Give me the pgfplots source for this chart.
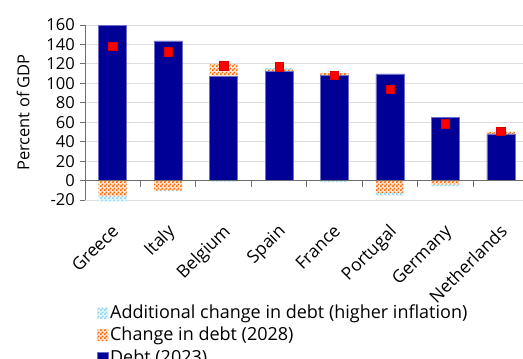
\documentclass[border=0pt]{standalone}
\usepackage{pgfplots}
\pgfplotsset{compat=1.18}
\usepackage{fontspec}
\setmainfont{Open Sans}
\usetikzlibrary{patterns}
\pgfdeclarepatternformonly{checker}{\pgfpointorigin}{\pgfpoint{4pt}{4pt}}{\pgfpoint{4pt}{4pt}}{%
  \pgfpathrectangle{\pgfpointorigin}{\pgfpoint{2pt}{2pt}}%
  \pgfpathrectangle{\pgfpoint{2pt}{2pt}}{\pgfpoint{2pt}{2pt}}%
  \pgfusepath{fill}}
\definecolor{debtblue}{RGB}{0,0,150}
\definecolor{debtedge}{RGB}{110,110,200}
\definecolor{chgorange}{RGB}{255,102,0}
\definecolor{addcyan}{RGB}{140,210,235}
\definecolor{gridgray}{RGB}{222,222,222}
\definecolor{axisgray}{RGB}{110,110,110}
\begin{document}
\fontsize{17}{20}\selectfont
\begin{tikzpicture}[font=\fontsize{17}{20}\selectfont]
\begin{axis}[
  at={(0pt,0pt)}, anchor=south west,
  scale only axis, width=438pt, height=175pt,
  xmin=-0.5, xmax=7.4, ymin=-20, ymax=160,
  clip=false,
  axis x line*=bottom,
  x axis line style={draw=none},
  xtick={0,1,2,3,4,5,6,7},
  xticklabels={Greece,Italy,Belgium,Spain,France,Portugal,Germany,Netherlands},
  xtick style={draw=none},
  xticklabel style={xshift=-2pt, yshift=-18pt, rotate=45, anchor=north east, inner sep=0pt,
    font=\fontsize{17.5}{20}\selectfont},
  axis y line*=left,
  y axis line style={axisgray, line width=0.8pt},
  ytick={-20,0,20,40,60,80,100,120,140,160},
  yticklabels={-20,0,20,40,60,80,100,120,140,160},
  ytick style={axisgray, line width=0.8pt},
  tick align=outside, major tick length=5pt,
  ymajorgrids, grid style={gridgray, line width=1pt},
  ylabel={Percent of GDP},
  ylabel style={font=\fontsize{16.5}{20}\selectfont, yshift=10pt},
  yticklabel style={inner sep=1pt, xshift=-4pt, font=\fontsize{16.5}{20}\selectfont},
  ybar, bar width=28pt, bar shift=0pt,
  legend cell align=left,
  legend style={at={(0.027,-0.59)}, anchor=north west, draw=none, fill=none,
    row sep=3pt, inner sep=0pt,
    nodes={inner sep=1.5pt}, font=\fontsize{18}{20}\selectfont},
  legend image code/.code={\path[#1] (0pt,-5.5pt) rectangle (11pt,5.5pt);},
]
% additional change (higher inflation): cumulative tops
\addplot[draw=none, fill=addcyan!20, postaction={pattern=checker, pattern color=addcyan}]
  coordinates {(3,116)};
\addlegendentry{Additional change in debt (higher inflation)}
\addplot[forget plot, draw=none, fill=addcyan!20, postaction={pattern=checker, pattern color=addcyan}]
  coordinates {(0,-21.5) (1,-11) (2,-1) (4,-1.5) (5,-15.4) (6,-5.8)};
% change in debt (2028)
\addplot[draw=none, fill=chgorange!15, postaction={pattern=checker, pattern color=chgorange}]
  coordinates {(2,119.5) (3,114) (4,110.5) (7,50.5)};
\addlegendentry{Change in debt (2028)}
\addplot[forget plot, draw=none, fill=chgorange!15, postaction={pattern=checker, pattern color=chgorange}]
  coordinates {(0,-16) (1,-10) (5,-12.6) (6,-4)};
% debt 2023
\addplot[draw=debtedge, line width=0.6pt, fill=debtblue]
  coordinates {(0,160) (1,143.6) (2,107) (3,112) (4,108) (5,109.7) (6,64.6) (7,47.9)};
\addlegendentry{Debt (2023)}
% markers
\addplot[forget plot, only marks, mark=square*, mark size=4.2pt,
  mark options={fill=red, draw=red!85!black, line width=0.4pt}]
  coordinates {(0,138.5) (1,132.6) (2,118) (3,117) (4,108.4) (5,94) (6,58.5) (7,50.5)};
% zero line and category separator ticks
\draw[axisgray, line width=0.8pt] (axis cs:-0.5,0) -- (axis cs:7.4,0);
\pgfplotsinvokeforeach{0.5,1.5,2.5,3.5,4.5,5.5,6.5}{
  \draw[axisgray, line width=0.8pt] (axis cs:#1,0) -- ++(0pt,-6pt);
}
\end{axis}
\pgfresetboundingbox
\path[use as bounding box] (-85pt,-159pt) rectangle (438pt,200pt);
\end{tikzpicture}
\end{document}
